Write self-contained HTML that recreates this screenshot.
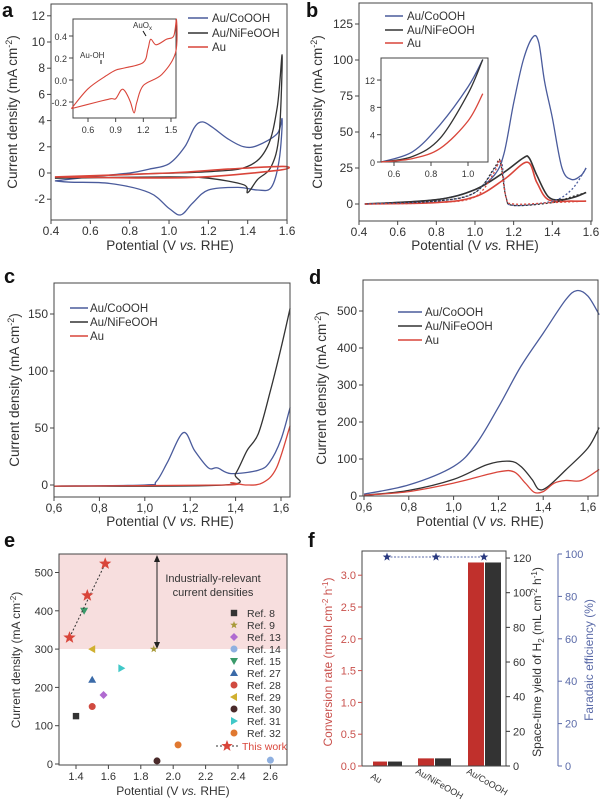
<!DOCTYPE html>
<html><head><meta charset="utf-8"><style>
html,body{margin:0;padding:0;background:#fff}
svg{display:block;font-family:"Liberation Sans",Arial,sans-serif}
.t{font-size:11px;fill:#333}
.ax{font-size:13.5px;fill:#333}
.lg{font-size:11.5px;fill:#333}
.L{font-size:20px;font-weight:bold;fill:#111}
</style></head><body>
<svg id="s" width="609" height="805" viewBox="0 0 609 805" xmlns="http://www.w3.org/2000/svg">
<rect width="609" height="805" fill="#fff"/>
<!-- panel e pink -->
<rect x="59" y="554" width="228" height="95" fill="#f7dede"/>
<g id="paths"></g>
<!-- letters -->
<text class="L" x="2" y="17">a</text>
<text class="L" x="306" y="17">b</text>
<text class="L" x="4" y="283">c</text>
<text class="L" x="309" y="284">d</text>
<text class="L" x="4" y="547">e</text>
<text class="L" x="308" y="547">f</text>

<!-- axis titles -->
<text class="ax" x="170" y="250" text-anchor="middle">Potential (V <tspan font-style="italic">vs.</tspan> RHE)</text>
<text class="ax" x="475" y="250" text-anchor="middle">Potential (V <tspan font-style="italic">vs.</tspan> RHE)</text>
<text class="ax" x="170" y="526" text-anchor="middle">Potential (V <tspan font-style="italic">vs.</tspan> RHE)</text>
<text class="ax" x="480" y="526" text-anchor="middle">Potential (V <tspan font-style="italic">vs.</tspan> RHE)</text>
<text x="173" y="795" text-anchor="middle" style="font-size:12px;fill:#333">Potential (V <tspan font-style="italic">vs.</tspan> RHE)</text>
<text class="ax" transform="translate(17,112) rotate(-90)" text-anchor="middle">Current density (mA cm<tspan dy="-5" font-size="9">-2</tspan><tspan dy="5">)</tspan></text>
<text class="ax" transform="translate(322,112) rotate(-90)" text-anchor="middle">Current density (mA cm<tspan dy="-5" font-size="9">-2</tspan><tspan dy="5">)</tspan></text>
<text class="ax" transform="translate(19,390) rotate(-90)" text-anchor="middle">Current density (mA cm<tspan dy="-5" font-size="9">-2</tspan><tspan dy="5">)</tspan></text>
<text class="ax" transform="translate(326,388) rotate(-90)" text-anchor="middle">Current density (mA cm<tspan dy="-5" font-size="9">-2</tspan><tspan dy="5">)</tspan></text>
<text transform="translate(20,660) rotate(-90)" text-anchor="middle" style="font-size:12px;fill:#333">Current density (mA cm<tspan dy="-4" font-size="8">-2</tspan><tspan dy="4">)</tspan></text>
<text transform="translate(332,662) rotate(-90)" text-anchor="middle" style="font-size:12px;fill:#c9504c">Conversion rate (mmol cm<tspan dy="-4" font-size="8">-2</tspan><tspan dy="4"> h</tspan><tspan dy="-4" font-size="8">-1</tspan><tspan dy="4">)</tspan></text>
<text transform="translate(541,662) rotate(-90)" text-anchor="middle" style="font-size:12px;fill:#333">Space-time yield of H<tspan dy="3" font-size="8">2</tspan><tspan dy="-3"> (mL cm</tspan><tspan dy="-4" font-size="8">-2</tspan><tspan dy="4"> h</tspan><tspan dy="-4" font-size="8">-1</tspan><tspan dy="4">)</tspan></text>
<text transform="translate(593,660) rotate(-90)" text-anchor="middle" style="font-size:12px;fill:#5a6aa8">Faradaic efficiency (%)</text>

<!-- legends a -->
<g class="lg">
<text x="212" y="22">Au/CoOOH</text><text x="212" y="37">Au/NiFeOOH</text><text x="212" y="51">Au</text>
<text x="407" y="20">Au/CoOOH</text><text x="407" y="34">Au/NiFeOOH</text><text x="407" y="47">Au</text>
<text x="90" y="312">Au/CoOOH</text><text x="90" y="326">Au/NiFeOOH</text><text x="90" y="340">Au</text>
<text x="425" y="316">Au/CoOOH</text><text x="425" y="330">Au/NiFeOOH</text><text x="425" y="344">Au</text>
</g>
<g style="font-size:8px;fill:#333"><text x="80" y="58">Au-OH</text><text x="133" y="28">AuO<tspan dy="2" font-size="6">x</tspan></text></g>
<text x="213" y="582" text-anchor="middle" style="font-size:11px;fill:#333">Industrially-relevant</text>
<text x="213" y="596" text-anchor="middle" style="font-size:11px;fill:#333">current densities</text>
<g style="font-size:10.5px;fill:#333" id="eleg">
<text x="247" y="617">Ref. 8</text><text x="247" y="629">Ref. 9</text><text x="247" y="641">Ref. 13</text><text x="247" y="653">Ref. 14</text><text x="247" y="665">Ref. 15</text><text x="247" y="677">Ref. 27</text><text x="247" y="689">Ref. 28</text><text x="247" y="701">Ref. 29</text><text x="247" y="713">Ref. 30</text><text x="247" y="725">Ref. 31</text><text x="247" y="737">Ref. 32</text><text x="242" y="750" style="fill:#d9453a">This work</text>
</g>
<g style="font-size:9px;fill:#333">
<text transform="translate(370,778) rotate(30)">Au</text>
<text transform="translate(415,773) rotate(30)">Au/NiFeOOH</text>
<text transform="translate(466,773) rotate(30)">Au/CoOOH</text>
</g>
<g id="ticks"></g>
</svg>
<script>
var S=document.getElementById('paths'),T=document.getElementById('ticks'),NS='http://www.w3.org/2000/svg';
function el(p,n,a,txt){var e=document.createElementNS(NS,n);for(var k in a)e.setAttribute(k,a[k]);if(txt!==undefined)e.textContent=txt;p.appendChild(e);return e;}
function cr(pts){var d='M'+pts[0][0].toFixed(1)+','+pts[0][1].toFixed(1);for(var i=0;i<pts.length-1;i++){var p0=pts[i-1]||pts[i],p1=pts[i],p2=pts[i+1],p3=pts[i+2]||p2;var c1=[p1[0]+(p2[0]-p0[0])/6,p1[1]+(p2[1]-p0[1])/6],c2=[p2[0]-(p3[0]-p1[0])/6,p2[1]-(p3[1]-p1[1])/6];d+='C'+c1[0].toFixed(1)+','+c1[1].toFixed(1)+' '+c2[0].toFixed(1)+','+c2[1].toFixed(1)+' '+p2[0].toFixed(1)+','+p2[1].toFixed(1);}return d;}
function curve(fx,fy,data,col,w,dash){var pts=data.map(function(p){return[fx(p[0]),fy(p[1])]});var a={d:cr(pts),fill:'none',stroke:col,'stroke-width':w||1.3};if(dash)a['stroke-dasharray']=dash;el(S,'path',a);}
var B='#4a5b9c',K='#333',R='#d9453a';
function box(x0,y0,x1,y1){el(T,'rect',{x:x0,y:y0,width:x1-x0,height:y1-y0,fill:'none',stroke:'#444','stroke-width':1});}
function xt(fx,y,vals,lab,fs,dec){vals.forEach(function(v){var x=fx(v);el(T,'line',{x1:x,x2:x,y1:y,y2:y+4,stroke:'#444'});if(lab)el(T,'text',{x:x,y:y+15,'text-anchor':'middle','font-size':fs||12,fill:'#333'},dec?v.toFixed(1).replace('.',dec):v.toFixed(1));});}
function yt(fy,x,vals,fs,fmt,col,right){vals.forEach(function(v){var y=fy(v);el(T,'line',{x1:x,x2:right?x+4:x-4,y1:y,y2:y,stroke:col||'#444'});el(T,'text',{x:right?x+7:x-6,y:y+4,'text-anchor':right?'start':'end','font-size':fs||12,fill:col||'#333'},fmt?fmt(v):String(v));});}
function leg(x,ys,cols,len){ys.forEach(function(y,i){el(S,'line',{x1:x,x2:x+len,y1:y,y2:y,stroke:cols[i],'stroke-width':1.4});});}

/* panel a */
var ax=function(v){return 51+(v-0.4)*196.7},ay=function(j){return 173-j*13.1};
curve(ax,ay,[[0.42,-0.6],[0.6,-0.3],[0.8,0],[0.9,0.3],[1.0,0.7],[1.08,2],[1.13,3.5],[1.17,3.9],[1.22,3.5],[1.3,2.6],[1.38,2.0],[1.45,2.1],[1.55,3],[1.575,4.1],[1.56,1],[1.52,-1.1],[1.45,-1.3],[1.35,-1.1],[1.2,-1.3],[1.12,-2.3],[1.06,-3.2],[1.0,-2.7],[0.9,-1.5],[0.7,-0.8],[0.5,-0.7],[0.42,-0.6]],B);
curve(ax,ay,[[0.42,-0.4],[0.8,-0.1],[1.2,0.1],[1.4,0.5],[1.5,2],[1.55,5],[1.575,9],[1.56,3],[1.52,0.5],[1.45,-0.5],[1.4,-1.5],[1.38,-0.9],[1.2,-0.4],[1.0,-0.3],[0.42,-0.4]],K);
curve(ax,ay,[[0.42,-0.3],[1.0,0],[1.3,0.3],[1.58,0.5],[1.55,0.2],[1.1,-0.35],[0.42,-0.3]],R,1.6);
box(51,4,287,220);xt(ax,220,[0.4,0.6,0.8,1.0,1.2,1.4,1.6],1);yt(ay,51,[-2,0,2,4,6,8,10,12]);
leg(188,[18,33,47],[B,K,R],20);
/* inset a */
el(S,'rect',{x:73,y:19,width:103,height:99,fill:'#fff',stroke:'#444'});
var iax=function(v){return 88+(v-0.6)*92.2},iay=function(j){return 36-(j-0.4)*110};
curve(iax,iay,[[0.42,-0.26],[0.6,-0.08],[0.8,0.04],[0.9,0.09],[1.0,0.11],[1.2,0.16],[1.25,0.28],[1.28,0.37],[1.34,0.32],[1.45,0.37],[1.53,0.4],[1.56,0.55],[1.55,0.25],[1.4,0.05],[1.2,-0.05],[1.13,-0.2],[1.1,-0.3],[1.06,-0.2],[1.0,-0.1],[0.96,-0.09],[0.9,-0.17],[0.85,-0.17],[0.7,-0.2],[0.42,-0.26]],R,1.1);
xt(iax,118,[0.6,0.9,1.2,1.5],1,9);yt(iay,73,[-0.2,0,0.2,0.4],9,function(v){return v.toFixed(1)});
el(S,'line',{x1:101,x2:101,y1:60,y2:64,stroke:'#111'});el(S,'line',{x1:143,x2:146,y1:31,y2:36,stroke:'#111'});

/* panel b */
var bx=function(v){return 359+(v-0.4)*193.3},by=function(j){return 204-j*1.44};
curve(bx,by,[[0.43,0],[0.8,3],[1.0,10],[1.1,20],[1.15,35],[1.2,70],[1.25,100],[1.3,116],[1.33,112],[1.36,85],[1.4,60],[1.45,25],[1.5,17],[1.55,20],[1.575,25]],B);
curve(bx,by,[[0.43,0],[0.8,3],[1.0,10],[1.15,22],[1.25,32],[1.28,32],[1.32,20],[1.38,5],[1.45,3],[1.52,5],[1.575,8]],K,1.6);
curve(bx,by,[[0.43,0],[0.8,1],[1.0,5],[1.15,17],[1.27,29],[1.32,15],[1.38,3],[1.5,2],[1.575,2]],R,1.6);
curve(bx,by,[[1.575,25],[1.5,10],[1.4,2],[1.2,-1],[1.16,5],[1.14,28],[1.12,28],[1.0,8],[0.8,2],[0.43,0]],B,1.3,'2,2');
curve(bx,by,[[1.575,8],[1.5,5],[1.4,1],[1.2,-1],[1.16,5],[1.13,30],[1.1,25],[1.0,8],[0.8,2],[0.43,0]],K,1.3,'2,2');
curve(bx,by,[[1.575,2],[1.4,1],[1.2,0],[1.16,5],[1.13,30],[1.1,22],[1.0,5],[0.8,1],[0.43,0]],R,1.3,'2,2');
box(359,3,592,221);xt(bx,221,[0.4,0.6,0.8,1.0,1.2,1.4,1.6],1);yt(by,359,[0,25,50,75,100,125]);
leg(385,[16,30,43],[B,K,R],18);
el(S,'rect',{x:381,y:58,width:107,height:104,fill:'#fff',stroke:'#444'});
var ibx=function(v){return 394+(v-0.6)*185},iby=function(j){return 162-j*6.83};
curve(ibx,iby,[[0.53,0],[0.7,1.5],[0.85,5.5],[1.0,11],[1.08,15]],B);
curve(ibx,iby,[[0.53,0],[0.7,0.8],[0.85,3.5],[1.0,10],[1.08,15]],K);
curve(ibx,iby,[[0.53,0],[0.7,0.5],[0.85,2],[1.0,6],[1.08,10]],R);
xt(ibx,162,[0.6,0.8,1.0],1,9);yt(iby,381,[0,4,8,12],9);

/* panel c */
var cx=function(v){return 54+(v-0.6)*227},cy=function(j){return 485-j*1.14};
curve(cx,cy,[[0.6,-1],[1.0,0],[1.05,3],[1.1,20],[1.17,46],[1.22,30],[1.28,15],[1.32,15],[1.38,10],[1.5,13],[1.55,20],[1.6,40],[1.64,68]],B);
curve(cx,cy,[[0.6,-1],[1.35,0],[1.4,10],[1.45,30],[1.5,45],[1.55,80],[1.6,120],[1.64,155]],K);
curve(cx,cy,[[0.6,-1],[1.35,0],[1.38,2],[1.45,0],[1.52,2],[1.58,15],[1.64,52]],R);
box(54,283,290,497);xt(cx,497,[0.6,0.8,1.0,1.2,1.4,1.6],1,12,',');yt(cy,54,[0,50,100,150]);
leg(70,[308,322,336],[B,K,R],18);

/* panel d */
var dx=function(v){return 364+(v-0.6)*224},dy=function(j){return 496-j*0.37};
curve(dx,dy,[[0.6,5],[0.8,30],[1.0,80],[1.1,140],[1.2,240],[1.3,350],[1.4,440],[1.5,530],[1.55,555],[1.6,540],[1.65,490]],B);
curve(dx,dy,[[0.6,2],[0.8,15],[1.0,45],[1.15,85],[1.25,94],[1.3,80],[1.35,45],[1.38,18],[1.42,25],[1.5,70],[1.6,130],[1.65,185]],K);
curve(dx,dy,[[0.6,2],[0.8,12],[1.0,35],[1.2,65],[1.27,65],[1.32,35],[1.36,10],[1.4,12],[1.45,35],[1.5,42],[1.57,42],[1.65,72]],R);
box(363,280,598,496);xt(dx,496,[0.6,0.8,1.0,1.2,1.4,1.6],1,12,',');yt(dy,363,[0,100,200,300,400,500]);
leg(398,[312,326,340],[B,K,R],24);

/* panel e */
var ex=function(v){return 76+(v-1.4)*162},ey=function(j){return 764-j*0.383};
box(59,554,287,765);xt(ex,765,[1.4,1.6,1.8,2.0,2.2,2.4,2.6],1,11);yt(ey,59,[0,100,200,300,400,500],11);
el(S,'line',{x1:ex(1.9),x2:ex(1.9),y1:558,y2:645,stroke:'#222'});
el(S,'path',{d:'M'+(ex(1.9)-3)+',562 L'+ex(1.9)+',555 L'+(ex(1.9)+3)+',562Z M'+(ex(1.9)-3)+',642 L'+ex(1.9)+',649 L'+(ex(1.9)+3)+',642Z',fill:'#222'});
function mk(x,y,t,c){var s=3.2;if(t=='sq')el(S,'rect',{x:x-s,y:y-s,width:2*s,height:2*s,fill:c});else if(t=='c')el(S,'circle',{cx:x,cy:y,r:3.5,fill:c});else if(t=='d')el(S,'path',{d:'M'+x+','+(y-4)+'L'+(x+4)+','+y+'L'+x+','+(y+4)+'L'+(x-4)+','+y+'Z',fill:c});else if(t=='tu')el(S,'path',{d:'M'+x+','+(y-4)+'L'+(x+4)+','+(y+3)+'L'+(x-4)+','+(y+3)+'Z',fill:c});else if(t=='td')el(S,'path',{d:'M'+x+','+(y+4)+'L'+(x+4)+','+(y-3)+'L'+(x-4)+','+(y-3)+'Z',fill:c});else if(t=='tl')el(S,'path',{d:'M'+(x-4)+','+y+'L'+(x+3)+','+(y-4)+'L'+(x+3)+','+(y+4)+'Z',fill:c});else if(t=='tr')el(S,'path',{d:'M'+(x+4)+','+y+'L'+(x-3)+','+(y-4)+'L'+(x-3)+','+(y+4)+'Z',fill:c});else if(t=='st'){var r=t=='st'?s:0,R1=(c.r||6),R2=R1*0.42,d='';for(var i=0;i<10;i++){var rr=i%2?R2:R1,a=-Math.PI/2+i*Math.PI/5;d+=(i?'L':'M')+(x+rr*Math.cos(a)).toFixed(1)+','+(y+rr*Math.sin(a)).toFixed(1);}el(S,'path',{d:d+'Z',fill:c.c});}}
var E=[['sq',1.4,125,'#333'],['st',1.88,300,{c:'#a89a3a',r:4}],['d',1.57,180,'#b06ad0'],['c',2.6,10,'#8fb0e0'],['td',1.45,400,'#3a9a6a'],['tu',1.5,220,'#3a6aa8'],['c',1.5,150,'#d04a40'],['tl',1.5,300,'#d0b030'],['c',1.9,8,'#4a2a2a'],['tr',1.68,250,'#40c8c8'],['c',2.03,50,'#e07830']];
E.forEach(function(p){mk(ex(p[1]),ey(p[2]),p[0],p[3]);});
var lgc=[['sq','#333'],['st',{c:'#a89a3a',r:4}],['d','#b06ad0'],['c','#8fb0e0'],['td','#3a9a6a'],['tu','#3a6aa8'],['c','#d04a40'],['tl','#d0b030'],['c','#4a2a2a'],['tr','#40c8c8'],['c','#e07830']];
lgc.forEach(function(p,i){mk(234,613+12*i,p[0],p[1]);});
el(S,'line',{x1:ex(1.36),y1:ey(330),x2:ex(1.58),y2:ey(523),stroke:'#333','stroke-dasharray':'2,2'});
[[1.36,330],[1.47,440],[1.58,523]].forEach(function(p){mk(ex(p[0]),ey(p[1]),'st',{c:R,r:6.5});});
el(S,'line',{x1:216,x2:240,y1:746,y2:746,stroke:'#333','stroke-dasharray':'2,2'});mk(227,746,'st',{c:R,r:6});

/* panel f */
var fy=function(v){return 766-v*63.6};
box(362,551,506,766);
yt(fy,362,[0,0.5,1.0,1.5,2.0,2.5,3.0],11,function(v){return v.toFixed(1)},'#c9504c');
var fy2=function(v){return 766-v*1.733};yt(fy2,506,[0,20,40,60,80,100,120],11,null,'#333',true);
el(T,'line',{x1:558,x2:558,y1:554,y2:766,stroke:'#5a6aa8'});
var fy3=function(v){return 766-v*2.12};yt(fy3,558,[0,20,40,60,80,100],11,null,'#5a6aa8',true);
[[373,387,0.07],[418,434,0.12],[468,484,3.2]].forEach(function(b){el(S,'rect',{x:b[0],y:fy(b[2]),width:b[1]-b[0],height:766-fy(b[2]),fill:'#c0302c'});el(S,'rect',{x:b[1]+1,y:fy(b[2]),width:b[1]-b[0],height:766-fy(b[2]),fill:'#333'});});
el(S,'line',{x1:387,x2:484,y1:557,y2:557,stroke:'#5a6aa8','stroke-dasharray':'2,1.5'});
[387,436,484].forEach(function(x){mk(x,557,'st',{c:'#2a3a80',r:4.5});});
</script>
</body></html>
